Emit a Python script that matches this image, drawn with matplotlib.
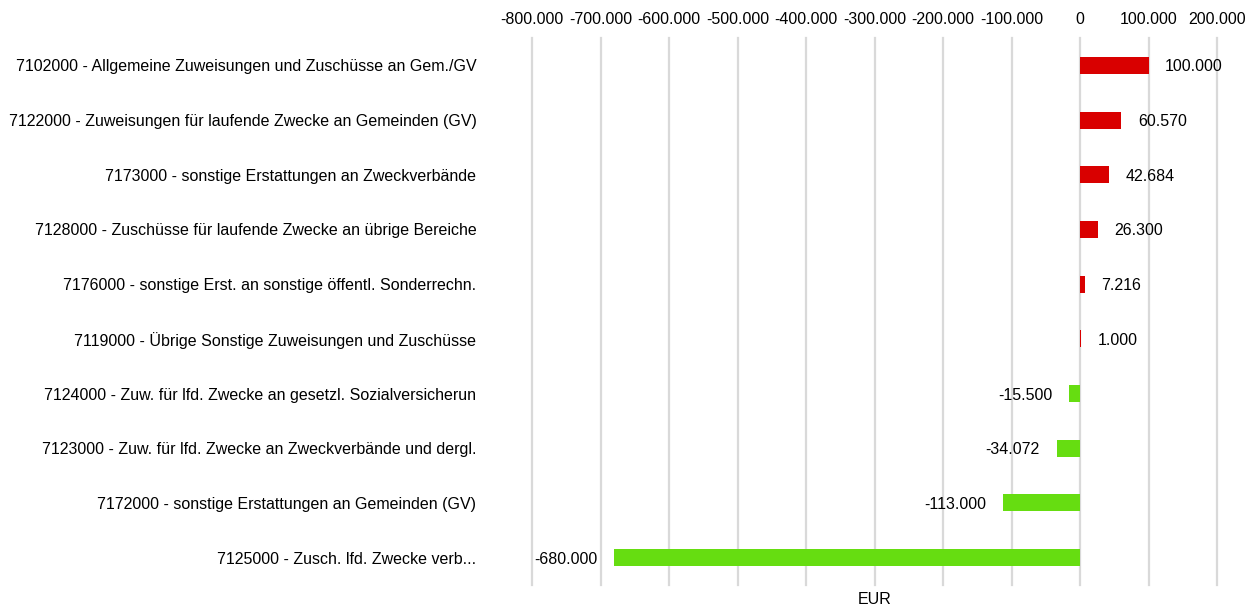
import matplotlib
matplotlib.use("Agg")
import matplotlib.pyplot as plt
from matplotlib.ticker import FuncFormatter

categories = [
    "7102000 - Allgemeine Zuweisungen und Zuschüsse an Gem./GV",
    "7122000 - Zuweisungen für laufende Zwecke an Gemeinden (GV)",
    "7173000 - sonstige Erstattungen an Zweckverbände",
    "7128000 - Zuschüsse für laufende Zwecke an übrige Bereiche",
    "7176000 - sonstige Erst. an sonstige öffentl. Sonderrechn.",
    "7119000 - Übrige Sonstige Zuweisungen und Zuschüsse",
    "7124000 - Zuw. für lfd. Zwecke an gesetzl. Sozialversicherun",
    "7123000 - Zuw. für lfd. Zwecke an Zweckverbände und dergl.",
    "7172000 - sonstige Erstattungen an Gemeinden (GV)",
    "7125000 - Zusch. lfd. Zwecke verb...",
]
values = [100000, 60570, 42684, 26300, 7216, 1000, -15500, -34072, -113000, -680000]
x_ticks = [-800000, -700000, -600000, -500000, -400000, -300000, -200000, -100000, 0, 100000, 200000]

plt.rcParams['font.family'] = ['Liberation Sans', 'DejaVu Sans']
FS = 11.5

def fmt(v):
    s = f"{abs(int(v)):,}".replace(",", ".")
    return ("-" if v < 0 else "") + s

fig = plt.figure(figsize=(12.57, 6.10), dpi=100)
ax = fig.add_axes([532/1257, 1-585/610, (1217-532)/1257, (585-38)/610])

pos = list(range(len(categories)))
colors = ["#D90000" if v >= 0 else "#66DD11" for v in values]
ax.barh(pos, values, height=0.31, color=colors, zorder=3)
ax.set_ylim(len(categories) - 0.5, -0.5)
ax.set_xlim(-800000, 200000)
ax.set_xticks(x_ticks)
ax.xaxis.set_major_formatter(FuncFormatter(lambda v, p: fmt(v)))
ax.xaxis.tick_top()
ax.set_yticks(pos)
ax.set_yticklabels(categories)
ax.tick_params(axis='both', length=0, labelsize=FS, colors='black')
ax.tick_params(axis='y', pad=40)
ax.tick_params(axis='x', pad=8)
ax.grid(axis='x', color='#D9D9D9', linewidth=1.6, zorder=0)
for gl in ax.get_xgridlines():
    gl.set_clip_on(False)
for s in ax.spines.values():
    s.set_visible(False)

for p, v in zip(pos, values):
    if v >= 0:
        ax.annotate(fmt(v), (v, p), xytext=(12, 0), textcoords='offset points',
                    ha='left', va='center_baseline', fontsize=FS)
    else:
        ax.annotate(fmt(v), (v, p), xytext=(-12, 0), textcoords='offset points',
                    ha='right', va='center_baseline', fontsize=FS)

ax.set_xlabel("EUR", fontsize=FS)
ax.xaxis.set_label_position('bottom')
ax.xaxis.labelpad = 5

fig.savefig("out.png", dpi=100)
